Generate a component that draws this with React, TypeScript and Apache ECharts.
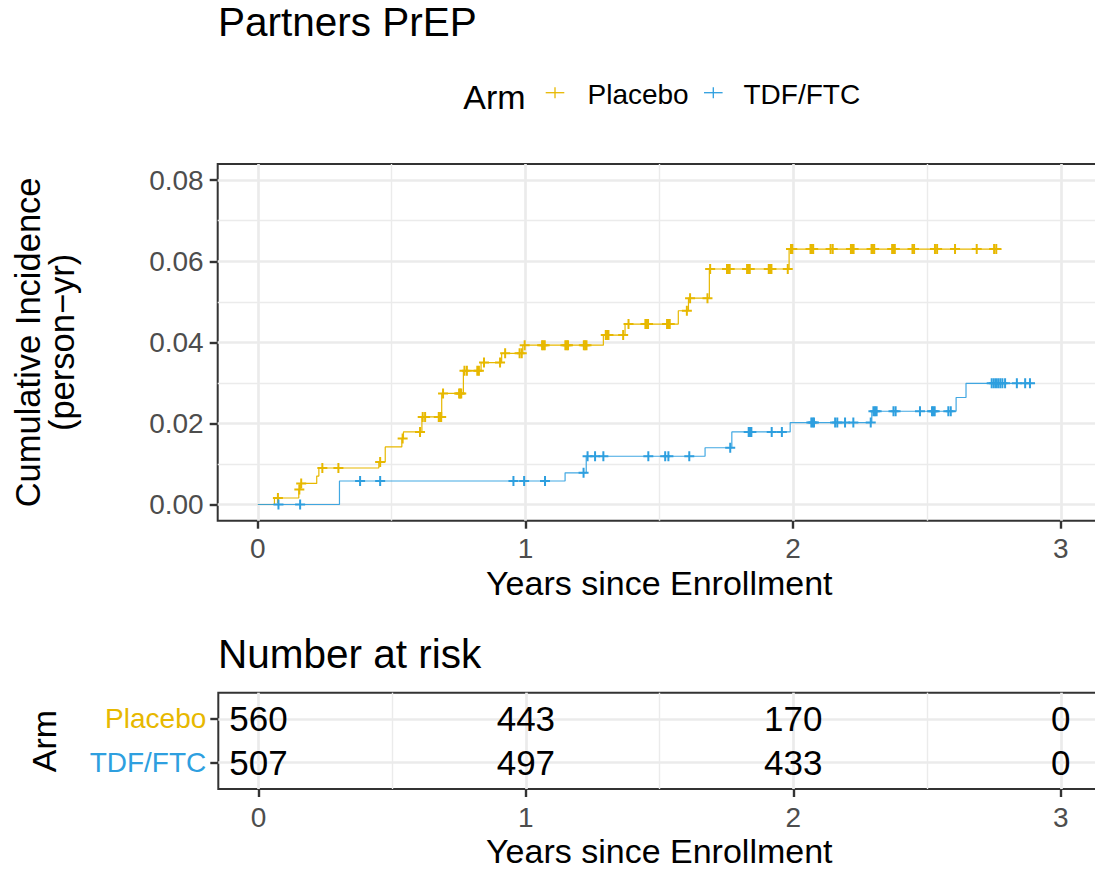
import React, { useEffect, useRef } from "react";
import * as echarts from "echarts";

// ---------- data ----------
const placeboTimes = [0, 0.062, 0.153, 0.158, 0.22, 0.228, 0.452, 0.476, 0.538, 0.544, 0.613, 0.687, 0.768, 0.834, 0.911, 0.99, 1.291, 1.372, 1.571, 1.609, 1.687, 1.985];
const placeboCumInc = [0, 0.0016, 0.0037, 0.0052, 0.007, 0.009, 0.0105, 0.0142, 0.0163, 0.0179, 0.0216, 0.0274, 0.033, 0.035, 0.0373, 0.0393, 0.0418, 0.0445, 0.0478, 0.0509, 0.0581, 0.063];
const placeboEnd = 2.779;
const placeboCensor = [
  0.075, 0.155, 0.162, 0.241, 0.301, 0.457, 0.541, 0.606, 0.616, 0.625, 0.676, 0.681, 0.685, 0.692,
  0.752, 0.756, 0.76, 0.772, 0.781, 0.82, 0.826, 0.845, 0.905, 0.924, 0.978, 0.986, 0.997,
  1.062, 1.067, 1.072, 1.149, 1.154, 1.159, 1.218, 1.223, 1.228, 1.3, 1.305, 1.31, 1.365, 1.385,
  1.448, 1.453, 1.458, 1.529, 1.534, 1.539, 1.603, 1.615, 1.68, 1.69, 1.753, 1.758, 1.763,
  1.828, 1.833, 1.838, 1.909, 1.914, 1.919, 1.98, 1.992, 1.997, 2.065, 2.07, 2.075, 2.14, 2.148,
  2.216, 2.221, 2.226, 2.293, 2.298, 2.303, 2.37, 2.375, 2.38, 2.446, 2.452, 2.53, 2.538, 2.605,
  2.686, 2.751, 2.759,
];

const tdfTimes = [0, 0.305, 1.148, 1.227, 1.671, 1.771, 1.989, 2.294, 2.609, 2.646];
const tdfCumInc = [0, 0.0058, 0.0078, 0.0119, 0.014, 0.0179, 0.0202, 0.023, 0.0264, 0.0299];
const tdfEnd = 2.904;
const tdfCensor = [
  0.077, 0.158, 0.382, 0.457, 0.955, 0.995, 1.073, 1.217, 1.232, 1.26, 1.291, 1.459, 1.522, 1.534,
  1.612, 1.765, 1.834, 1.839, 1.844, 1.92, 1.958, 2.068, 2.073, 2.078, 2.157, 2.165, 2.194, 2.225,
  2.29, 2.3, 2.306, 2.312, 2.375, 2.383, 2.474, 2.519, 2.524, 2.529, 2.58, 2.589, 2.742, 2.75,
  2.758, 2.766, 2.774, 2.782, 2.792, 2.836, 2.867, 2.885,
];

const armNames = ["Placebo", "TDF/FTC"];
const riskTimes = [0, 1, 2, 3];
const placeboRisk = [560, 443, 170, 0];
const tdfRisk = [507, 497, 433, 0];

const xTicks = [0, 1, 2, 3];
const xMinor = [0.5, 1.5, 2.5];
const yTicks = [0, 0.02, 0.04, 0.06, 0.08];
const yMinor = [0.01, 0.03, 0.05, 0.07];

// ---------- styling ----------
const C_PLACEBO = "#E7B800";
const C_TDF = "#2E9FDF";
const FONT = "Liberation Sans";
const GRID_COL = "#EBEBEB";
const PLUS = "path://M0,4 L10,4 L10,6 L0,6 Z M4,0 L6,0 L6,10 L4,10 Z";

function stepData(times: number[], vals: number[], end: number) {
  const d = times.map((t, i) => [t, vals[i]]);
  d.push([end, vals[vals.length - 1]]);
  return d;
}
function valueAt(times: number[], vals: number[], t: number) {
  let v = vals[0];
  for (let i = 0; i < times.length; i++) if (times[i] <= t) v = vals[i];
  return v;
}
function gridLineSeries(xi: number, xs: number[], ys: number[], wMajor: number, xsMinor: number[], ysMinor: number[]) {
  const mk = (axis: string, v: number, w: number) => ({ [axis]: v, lineStyle: { color: GRID_COL, width: w, type: "solid" } });
  return {
    type: "line",
    xAxisIndex: xi,
    yAxisIndex: xi,
    data: [],
    silent: true,
    z: 1,
    markLine: {
      z: 1,
      silent: true,
      symbol: ["none", "none"],
      label: { show: false },
      animation: false,
      data: [
        ...xsMinor.map((v) => mk("xAxis", v, 1.4)),
        ...ysMinor.map((v) => mk("yAxis", v, 1.4)),
        ...xs.map((v) => mk("xAxis", v, wMajor)),
        ...ys.map((v) => mk("yAxis", v, wMajor)),
      ],
    },
  };
}

export default function App() {
  const ref = useRef<HTMLDivElement>(null);
  useEffect(() => {
    if (!ref.current) return;
    const chart = echarts.init(ref.current, undefined, { renderer: "svg" });
    const tickStyle = { show: true, length: 8, inside: false, lineStyle: { color: "#333333", width: 2.4 } };
    const labelBase = { color: "#4D4D4D", fontSize: 28, fontFamily: FONT };
    const hiddenLine = { show: false, onZero: false };
    const option: any = {
      animation: false,
      textStyle: { fontFamily: FONT },
      grid: [
        { left: 217.7, top: 164, width: 883.2, height: 356.7, show: true, borderColor: "#333333", borderWidth: 2, backgroundColor: "#fff", containLabel: false },
        { left: 218.3, top: 692.7, width: 882.6, height: 96.3, show: true, borderColor: "#333333", borderWidth: 2, backgroundColor: "#fff", containLabel: false },
      ],
      xAxis: [
        {
          type: "value", gridIndex: 0, min: -0.15, max: 3.15, position: "bottom",
          axisLine: hiddenLine, splitLine: { show: false },
          axisTick: { ...tickStyle, customValues: xTicks },
          axisLabel: { ...labelBase, margin: 14, customValues: xTicks, formatter: (v: number) => String(v) },
        },
        {
          type: "value", gridIndex: 1, min: -0.15, max: 3.15, position: "bottom",
          axisLine: hiddenLine, splitLine: { show: false },
          axisTick: { ...tickStyle, customValues: riskTimes },
          axisLabel: { ...labelBase, margin: 14, customValues: riskTimes, formatter: (v: number) => String(v) },
        },
      ],
      yAxis: [
        {
          type: "value", gridIndex: 0, min: -0.004, max: 0.084, position: "left",
          axisLine: hiddenLine, splitLine: { show: false },
          axisTick: { ...tickStyle, customValues: yTicks },
          axisLabel: { ...labelBase, margin: 14, customValues: yTicks, formatter: (v: number) => v.toFixed(2) },
        },
        {
          type: "value", gridIndex: 1, min: 0.4, max: 2.6, position: "left",
          axisLine: hiddenLine, splitLine: { show: false },
          axisTick: { ...tickStyle, customValues: [1, 2] },
          axisLabel: {
            margin: 12, customValues: [1, 2], fontFamily: FONT, fontSize: 28,
            formatter: (v: number) => (v === 2 ? `{p|${armNames[0]}}` : `{t|${armNames[1]}}`),
            rich: {
              p: { color: C_PLACEBO, fontSize: 28, fontFamily: FONT },
              t: { color: C_TDF, fontSize: 28, fontFamily: FONT },
            },
          },
        },
      ],
      series: [
        gridLineSeries(0, xTicks, yTicks, 2.7, xMinor, yMinor),
        gridLineSeries(1, riskTimes, [1, 2], 2.7, xMinor, []),
        {
          name: armNames[0], type: "line", xAxisIndex: 0, yAxisIndex: 0, step: "end",
          data: stepData(placeboTimes, placeboCumInc, placeboEnd),
          showSymbol: false, symbol: "none", lineStyle: { color: C_PLACEBO, width: 1.2 }, itemStyle: { color: C_PLACEBO }, z: 10,
        },
        {
          name: armNames[1], type: "line", xAxisIndex: 0, yAxisIndex: 0, step: "end",
          data: stepData(tdfTimes, tdfCumInc, tdfEnd),
          showSymbol: false, symbol: "none", lineStyle: { color: C_TDF, width: 1.2, opacity: 0.9 }, itemStyle: { color: C_TDF }, z: 10,
        },
        {
          name: armNames[0], type: "scatter", xAxisIndex: 0, yAxisIndex: 0,
          data: placeboCensor.map((t) => [t, valueAt(placeboTimes, placeboCumInc, t)]),
          symbol: PLUS, symbolSize: 10, itemStyle: { color: C_PLACEBO, opacity: 1 }, z: 11,
        },
        {
          name: armNames[1], type: "scatter", xAxisIndex: 0, yAxisIndex: 0,
          data: tdfCensor.map((t) => [t, valueAt(tdfTimes, tdfCumInc, t)]),
          symbol: PLUS, symbolSize: 10, itemStyle: { color: C_TDF, opacity: 1 }, z: 11,
        },
        {
          type: "scatter", xAxisIndex: 1, yAxisIndex: 1, symbolSize: 0, silent: true, z: 12,
          itemStyle: { opacity: 1, color: "#000000" },
          data: [
            ...riskTimes.map((t, i) => [t, 2, placeboRisk[i]]),
            ...riskTimes.map((t, i) => [t, 1, tdfRisk[i]]),
          ],
          label: {
            show: true, position: "inside", color: "#000000", opacity: 1, fontSize: 35, fontFamily: FONT,
            formatter: (p: any) => String(p.value[2]),
          },
        },
      ],
      graphic: [
        { type: "text", x: 218, y: 21.5, style: { text: "Partners PrEP", fontSize: 40.5, fontFamily: FONT, fill: "#000", align: "left", verticalAlign: "middle" } },
        { type: "text", x: 463.3, y: 96.5, style: { text: "Arm", fontSize: 34, fontFamily: FONT, fill: "#000", align: "left", verticalAlign: "middle" } },
        { type: "line", shape: { x1: 545.7, y1: 92.7, x2: 564.3, y2: 92.7 }, style: { stroke: C_PLACEBO, lineWidth: 1.3 } },
        { type: "line", shape: { x1: 555, y1: 87.2, x2: 555, y2: 98.2 }, style: { stroke: C_PLACEBO, lineWidth: 1.3 } },
        { type: "text", x: 587.5, y: 94.3, style: { text: armNames[0], fontSize: 28, fontFamily: FONT, fill: "#000", align: "left", verticalAlign: "middle" } },
        { type: "line", shape: { x1: 704, y1: 92.7, x2: 722.6, y2: 92.7 }, style: { stroke: C_TDF, lineWidth: 1.3 } },
        { type: "line", shape: { x1: 713.3, y1: 87.2, x2: 713.3, y2: 98.2 }, style: { stroke: C_TDF, lineWidth: 1.3 } },
        { type: "text", x: 743.5, y: 94.3, style: { text: armNames[1], fontSize: 28, fontFamily: FONT, fill: "#000", align: "left", verticalAlign: "middle" } },
        { type: "text", x: 659.3, y: 583, style: { text: "Years since Enrollment", fontSize: 34, fontFamily: FONT, fill: "#000", align: "center", verticalAlign: "middle" } },
        { type: "text", x: 45, y: 342.4, rotation: Math.PI / 2, style: { text: "Cumulative Incidence\n(person\u2212yr)", fontSize: 34.5, lineHeight: 34, fontFamily: FONT, fill: "#000", align: "center", verticalAlign: "middle" } },
        { type: "text", x: 218, y: 653.5, style: { text: "Number at risk", fontSize: 40.5, fontFamily: FONT, fill: "#000", align: "left", verticalAlign: "middle" } },
        { type: "text", x: 44, y: 741, rotation: Math.PI / 2, style: { text: "Arm", fontSize: 34, fontFamily: FONT, fill: "#000", align: "center", verticalAlign: "middle" } },
        { type: "text", x: 659.3, y: 851, style: { text: "Years since Enrollment", fontSize: 34, fontFamily: FONT, fill: "#000", align: "center", verticalAlign: "middle" } },
      ],
    };
    chart.setOption(option);
    return () => chart.dispose();
  }, []);
  return (
    <div style={{ position: "absolute", left: 0, top: 0, width: 1095, height: 871, overflow: "hidden", background: "#fff" }}>
      <div ref={ref} style={{ width: 1110, height: 871 }} />
    </div>
  );
}
